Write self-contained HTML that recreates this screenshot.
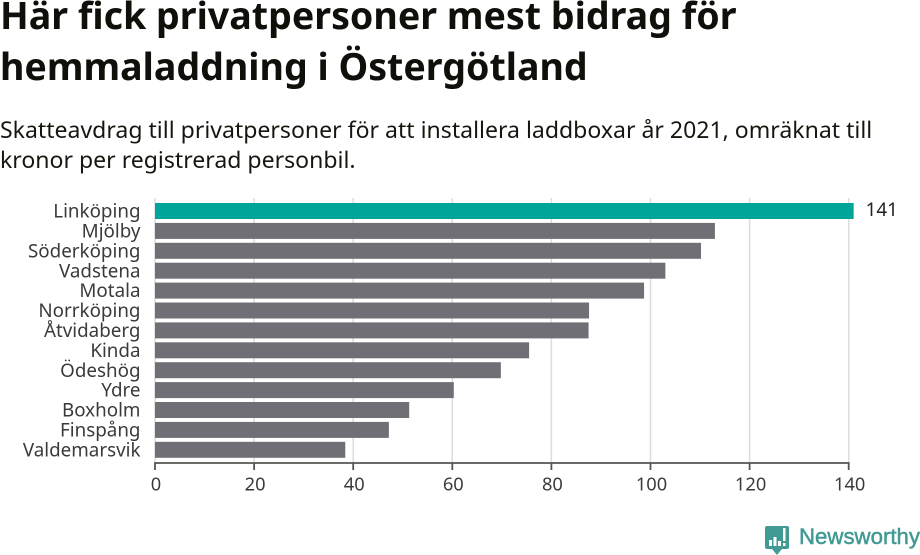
<!DOCTYPE html>
<html lang="sv">
<head>
<meta charset="utf-8">
<title>Här fick privatpersoner mest bidrag för hemmaladdning i Östergötland</title>
<style>
html,body{margin:0;padding:0;background:#fff;width:920px;height:555px;overflow:hidden}
svg{display:block}
text{font-family:"Noto Sans","Liberation Sans","Noto Sans CJK SC",sans-serif}
</style>
</head>
<body>
<svg id="chart" width="920" height="555" viewBox="0 0 920 555" xmlns="http://www.w3.org/2000/svg">
<text x="0" y="29" font-size="37.6" font-weight="700" fill="#10100a">Här fick privatpersoner mest bidrag för</text>
<text x="0" y="80" font-size="37.6" font-weight="700" fill="#10100a">hemmaladdning i Östergötland</text>
<text x="0" y="138" font-size="23.05" fill="#16160f">Skatteavdrag till privatpersoner för att installera laddboxar år 2021, omräknat till</text>
<text x="0" y="168" font-size="23.05" fill="#16160f">kronor per registrerad personbil.</text>
<g id="plot"></g>
<g>
<path d="M767 526H787Q789 526 789 528V547Q789 549 787 549H782L777 555L772 549H767Q765 549 765 547V528Q765 526 767 526Z" fill="#429a94"/>
<rect x="769" y="540" width="3" height="6" fill="#fff"/>
<rect x="773.5" y="537" width="3" height="9" fill="#fff"/>
<rect x="778" y="541" width="3" height="5" fill="#fff"/>
<rect x="783" y="528" width="2.5" height="13" fill="#fff"/>
<rect x="783" y="543" width="2.5" height="3" fill="#fff"/>
<text x="799" y="544" font-size="22" fill="#429a94" stroke="#429a94" stroke-width="0.5" textLength="121" lengthAdjust="spacingAndGlyphs" style="font-family:'Liberation Sans',sans-serif">Newsworthy</text>
</g>
</svg>
<script>
const categories = ["Linköping","Mjölby","Söderköping","Vadstena","Motala","Norrköping","Åtvidaberg","Kinda","Ödeshög","Ydre","Boxholm","Finspång","Valdemarsvik"];
const seriesValues = [141,113,110.2,103,98.7,87.6,87.5,75.5,69.8,60.3,51.3,47.2,38.4];
const tickValues = [0,20,40,60,80,100,120,140];
const highlightedCategory = "Linköping";
const printedCategory = "Linköping";

const svgNS = "http://www.w3.org/2000/svg";
const plot = document.getElementById("plot");
const xScale = v => 155 + v * 4.955;
const yScale = i => 203 + i * 19.9;
const barHeight = 16;

function make(tag, attrs, text) {
  const el = document.createElementNS(svgNS, tag);
  for (const k in attrs) el.setAttribute(k, attrs[k]);
  if (text !== undefined) el.textContent = text;
  plot.appendChild(el);
  return el;
}

tickValues.forEach(t => {
  const x = xScale(t);
  const grid = make("line", {x1:x, x2:x, y1:198, y2:463, stroke:"#dcdcdc", "stroke-width":1.5});
  
  
});

categories.forEach((c, i) => {
  const v = seriesValues[i];
  const bar = make("rect", {x:xScale(0), y:yScale(i), width:xScale(v)-xScale(0), height:barHeight, fill:c === highlightedCategory ? "#00a59a" : "#706f76"});
  
  
  const label = make("text", {x:140.5, y:yScale(i)+14.6, "text-anchor":"end", "font-size":18.8, fill:"#3a3a3a"}, c);
  
  
  if (c === printedCategory) {
    const val = make("text", {x:xScale(v)+12, y:yScale(i)+13, "font-size":18.8, fill:"#222"}, String(v));
    
    
  }
});

const axis = make("line", {x1:xScale(0)-0.9, x2:xScale(tickValues[tickValues.length-1])+0.9, y1:463, y2:463, stroke:"#555", "stroke-width":1.8});



tickValues.forEach(t => {
  const x = xScale(t);
  const tick = make("line", {x1:x, x2:x, y1:463, y2:470, stroke:"#555", "stroke-width":1.8});
  
  
  const lab = make("text", {x:x+1, y:490.5, "text-anchor":"middle", "font-size":18.3, fill:"#3a3a3a"}, String(t));
  
  
});
</script>
</body>
</html>
